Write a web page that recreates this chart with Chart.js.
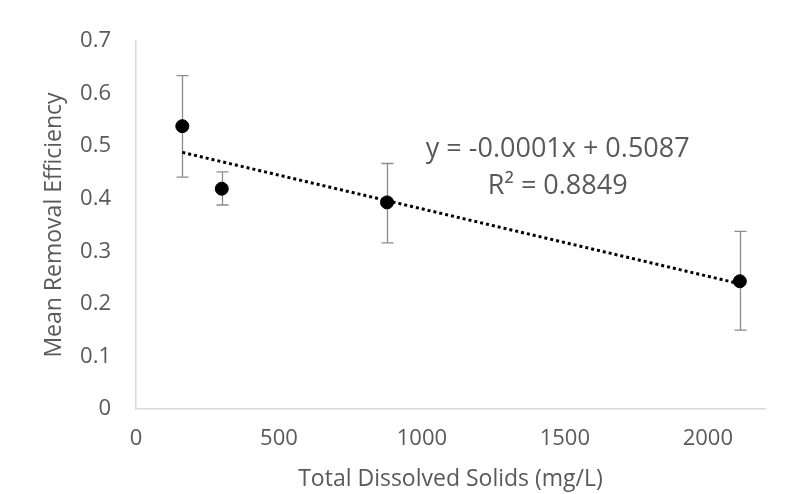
<!DOCTYPE html>
<html>
<head>
<meta charset="utf-8">
<script src="https://cdn.jsdelivr.net/npm/chart.js@4"></script>
<style>
  html, body { margin: 0; padding: 0; background: #fff; }
  #wrap { width: 805px; height: 494px; }
</style>
</head>
<body>
<div id="wrap"><canvas id="tdsChart" width="805" height="494"></canvas></div>
<script>
// TDS (mg/L) vs mean removal efficiency, with +/- error
const tds = [162, 300, 878, 2112];
const efficiency = [0.538, 0.419, 0.393, 0.243];
const errHigh = [0.634, 0.451, 0.467, 0.338];
const errLow = [0.441, 0.388, 0.316, 0.150];
const xTicks = [0, 500, 1000, 1500, 2000];
const eqLines = ['y = -0.0001x + 0.5087', 'R² = 0.8849'];

const FONT = "'Open Sans', sans-serif";
const GREY = '#595959';

// least squares fit, like the spreadsheet trendline
function fit(xs, ys) {
  let n = xs.length, mx = 0, my = 0;
  for (let i = 0; i < n; i++) { mx += xs[i]; my += ys[i]; }
  mx /= n; my /= n;
  let sxy = 0, sxx = 0;
  for (let i = 0; i < n; i++) {
    sxy += (xs[i] - mx) * (ys[i] - my);
    sxx += (xs[i] - mx) * (xs[i] - mx);
  }
  const m = sxy / sxx;
  return { m: m, b: my - m * mx };
}
const tr = fit(tds, efficiency);
const xFirst = tds[0], xLast = tds[tds.length - 1];
const trendData = [
  { x: xFirst, y: tr.m * xFirst + tr.b },
  { x: xLast, y: tr.m * xLast + tr.b }
];

const errorBars = {
  id: 'errorBars',
  beforeDatasetsDraw(chart) {
    const ctx = chart.ctx;
    const xs = chart.scales.x, ys = chart.scales.y;
    ctx.save();
    ctx.strokeStyle = '#8c8c8c';
    ctx.lineWidth = 1.3;
    for (let i = 0; i < tds.length; i++) {
      const px = Math.round(xs.getPixelForValue(tds[i])) + 0.5;
      const top = ys.getPixelForValue(errHigh[i]);
      const bot = ys.getPixelForValue(errLow[i]);
      ctx.beginPath();
      ctx.moveTo(px, top); ctx.lineTo(px, bot);
      ctx.moveTo(px - 6, top); ctx.lineTo(px + 6, top);
      ctx.moveTo(px - 6, bot); ctx.lineTo(px + 6, bot);
      ctx.stroke();
    }
    ctx.restore();
  }
};

const equationLabel = {
  id: 'equationLabel',
  afterDraw(chart) {
    const ctx = chart.ctx;
    const xs = chart.scales.x, ys = chart.scales.y;
    ctx.save();
    ctx.fillStyle = GREY;
    ctx.font = '27px ' + FONT;
    ctx.textAlign = 'center';
    ctx.textBaseline = 'middle';
    const cx = xs.getPixelForValue(1475);
    ctx.fillText(eqLines[0], cx, ys.getPixelForValue(0.494));
    ctx.fillText(eqLines[1], cx, ys.getPixelForValue(0.424));
    ctx.restore();
  }
};

new Chart(document.getElementById('tdsChart'), {
  type: 'scatter',
  data: {
    datasets: [
      {
        label: 'Mean Removal Efficiency',
        data: tds.map((x, i) => ({ x: x, y: efficiency[i] })),
        backgroundColor: '#000',
        borderColor: '#000',
        pointRadius: 6.5,
        pointHoverRadius: 6.5,
        order: 1
      },
      {
        label: 'Linear fit',
        type: 'line',
        data: trendData,
        borderColor: '#000',
        borderWidth: 3,
        borderDash: [3, 3],
        pointRadius: 0,
        fill: false,
        order: 2
      }
    ]
  },
  options: {
    responsive: false,
    animation: false,
    events: [],
    layout: { padding: { top: 41, right: 40, left: 0, bottom: 0 } },
    plugins: { legend: { display: false }, tooltip: { enabled: false } },
    scales: {
      x: {
        type: 'linear',
        min: 0,
        max: 2200,
        afterBuildTicks: (s) => { s.ticks = xTicks.map(v => ({ value: v })); },
        afterFit: (s) => { s.height = 85; },
        grid: { display: false, drawTicks: false },
        border: { color: '#d9d9d9', width: 1.5 },
        ticks: {
          color: GREY,
          font: { family: FONT, size: 22 },
          padding: 17,
          callback: (v) => String(v)
        },
        title: {
          display: true,
          text: 'Total Dissolved Solids (mg/L)',
          color: GREY,
          font: { family: FONT, size: 23 },
          padding: { top: 0, bottom: 1 }
        }
      },
      y: {
        min: 0,
        max: 0.7,
        ticks: {
          stepSize: 0.1,
          color: GREY,
          font: { family: FONT, size: 22 },
          padding: 25,
          callback: (v) => v === 0 ? '0' : v.toFixed(1)
        },
        afterFit: (s) => { s.width = 136; },
        grid: { display: false, drawTicks: false },
        border: { color: '#d9d9d9', width: 1.5 },
        title: {
          display: true,
          text: 'Mean Removal Efficiency',
          color: GREY,
          font: { family: FONT, size: 23 },
          padding: { top: 41, bottom: 0 }
        }
      }
    }
  },
  plugins: [errorBars, equationLabel]
});
</script>
</body>
</html>
